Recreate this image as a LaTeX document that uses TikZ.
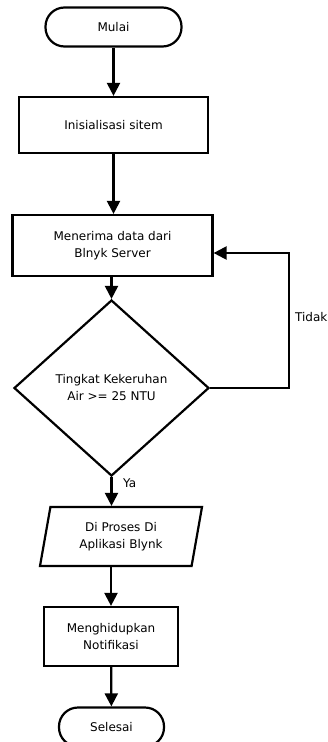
\documentclass[tikz,border=0pt]{standalone}
\usepackage{fontspec}
\setmainfont{DejaVu Sans}
\usetikzlibrary{shapes.geometric, arrows.meta}

\begin{document}
\begin{tikzpicture}[x = 1pt, y = -1pt, > = {Triangle[length = 13pt, width = 13pt]},
	font = \fontsize{12}{17}\selectfont, line width = 2.2pt,
	terminal/.style = {draw, rounded corners = 19pt, minimum height = 39pt, inner sep = 0pt},
	process/.style = {draw, rectangle, align = center, inner sep = 0pt},
	decision/.style = {draw, diamond, align = center, inner sep = 0pt,
		minimum width = 195pt, minimum height = 176pt},
	io/.style = {draw, trapezium, trapezium left angle = 70, trapezium right angle = 110,
		trapezium stretches body, align = center, inner sep = 0pt,
		minimum width = 162pt, minimum height = 59pt},
	label/.style = {inner sep = 0pt, anchor = west}]

	% Page size

	\useasboundingbox (0, 0) rectangle (327, 742);

	% Draw flowchart shapes

	\node [terminal, minimum width = 136pt] (mulai) at (113.5, 27) {Mulai};
	\node [process, minimum width = 189pt, minimum height = 56pt] (init) at (113.5, 125) {Inisialisasi sitem};
	\node [process, minimum width = 200pt, minimum height = 61pt] (terima) at (112.5, 245.5) {Menerima data dari\\Blnyk Server};
	\node [decision] (cek) at (111.5, 388) {Tingkat Kekeruhan\\ Air >= 25 NTU};
	\node [io] (proses) at (121, 536.5) {Di Proses Di\\Aplikasi Blynk};
	\node [process, minimum width = 134pt, minimum height = 59pt] (notif) at (111, 636.5) {Menghidupkan\\Notifikasi};
	\node [terminal, minimum width = 105pt] (selesai) at (111.5, 727) {Selesai};

	% Draw arrows

	\draw [->] (mulai) -- (init);
	\draw [->] (init) -- (init |- terima.north);
	\draw [->] (terima.south -| cek) -- (cek);
	\draw [->] (cek.south) -- (cek.south |- proses.north);
	\draw [->] (notif.north |- proses.south) -- (notif);
	\draw [->] (notif) -- (selesai);

	% Loop back + labels

	\coordinate (balik) at (289, 253);
	\draw [->, line join = miter] (cek.east) -| (balik) -- (balik -| terima.east);

	\node [label] (tidak) at (294, 317) {Tidak};
	\node [label] (ya) at (122, 483) {Ya};

\end{tikzpicture}
\end{document}
